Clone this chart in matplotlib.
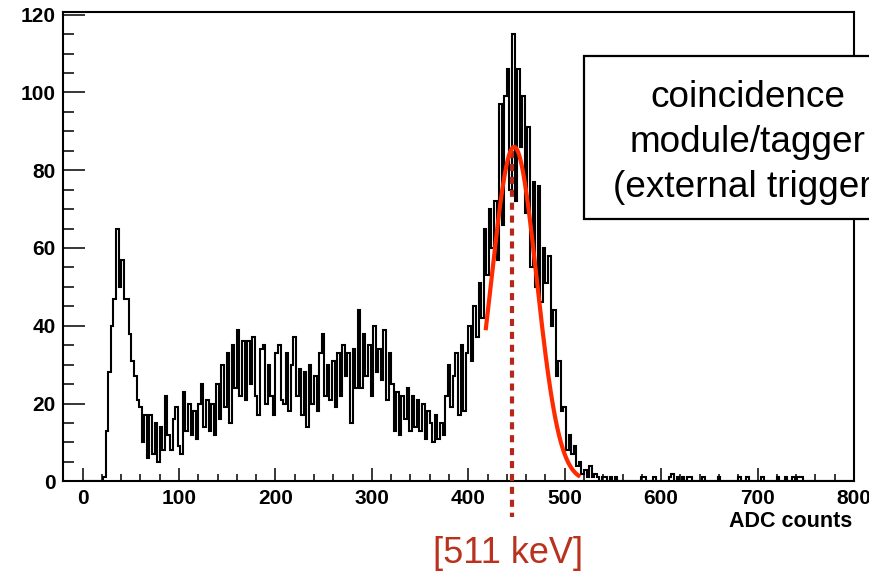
import numpy as np
import matplotlib
matplotlib.use("Agg")
import matplotlib.pyplot as plt
from matplotlib.patches import Rectangle
from matplotlib.ticker import MultipleLocator
from matplotlib.font_manager import FontProperties

# ---- histogram: 300 bins over 0..800 ADC counts ----
n_bins = 300
adc_min, adc_max = 0.0, 800.0

# counts for bins 0..204
counts_main = [
    0, 0, 0, 0, 0, 0, 0, 0, 1, 13,            # 0-9
    28, 40, 47, 65, 50, 57, 47, 47, 38, 31,   # 10-19
    27, 21, 19, 10, 17, 6, 17, 7, 15, 5,      # 20-29
    14, 8, 22, 12, 8, 16, 19, 9, 7, 23,       # 30-39
    13, 20, 12, 18, 11, 20, 25, 14, 21, 13,   # 40-49
    20, 12, 25, 16, 30, 19, 33, 15, 35, 24,   # 50-59
    39, 22, 36, 21, 36, 25, 37, 22, 17, 34,   # 60-69
    35, 20, 30, 22, 17, 33, 35, 21, 20, 33,   # 70-79
    18, 30, 37, 22, 29, 17, 28, 14, 30, 20,   # 80-89
    27, 18, 33, 38, 22, 30, 21, 31, 19, 33,   # 90-99
    22, 35, 27, 33, 15, 34, 24, 44, 24, 38,   # 100-109
    27, 35, 22, 40, 28, 34, 26, 39, 21, 33,   # 110-119
    25, 13, 23, 12, 22, 16, 24, 13, 22, 14,   # 120-129
    21, 13, 20, 11, 18, 15, 10, 17, 11, 15,   # 130-139
    12, 22, 30, 19, 27, 33, 17, 35, 18, 33,   # 140-149
    40, 31, 45, 37, 51, 42, 65, 53, 70, 60,   # 150-159
    72, 57, 97, 66, 99, 106, 75, 115, 72, 106, # 160-169
    86, 99, 69, 91, 55, 77, 50, 76, 46, 60,   # 170-179
    51, 58, 40, 44, 27, 31, 18, 19, 8, 12,    # 180-189
    7, 9, 4, 5, 2, 3, 1, 4, 1, 2,             # 190-199
    1, 0, 1, 1, 0,                            # 200-204
]

# isolated counts in the high-ADC tail
tail_bins = [205, 207, 217, 218, 222, 228, 229, 231, 233, 235, 236,
             241, 247, 255, 258, 264, 270, 273, 276, 278, 279]
tail_counts = [1, 1, 1, 1, 1, 1, 2, 1, 1, 1, 1,
               1, 1, 1, 1, 1, 1, 1, 1, 1, 1]

# Gaussian fit of the photo-peak
fit_amp = 86.0
fit_mean = 447.5
fit_sigma = 23.4
fit_lo, fit_hi = 418.0, 516.0

peak_marker = 445.0
peak_label = "[511 keV]"
box_lines = ["coincidence", "module/tagger", "(external trigger)"]

# ---- assemble counts ----
counts = np.zeros(n_bins)
counts[:len(counts_main)] = counts_main
for b, c in zip(tail_bins, tail_counts):
    counts[b] = c
edges = np.linspace(adc_min, adc_max, n_bins + 1)

W, H = 870, 574
fig = plt.figure(figsize=(W / 100, H / 100), dpi=100)
fig.patch.set_facecolor("white")

ax_l, ax_r, ax_t, ax_b = 63.3, 854.0, 12.3, 481.3
ax = fig.add_axes([ax_l / W, 1 - ax_b / H, (ax_r - ax_l) / W, (ax_b - ax_t) / H])

ax.stairs(counts, edges, color="black", lw=1.5, zorder=2)

# marker line at the peak, running below the axis to the label
ax.plot([peak_marker, peak_marker], [85, -9.2], color="#b3281a", lw=3.0,
        dashes=(1.7, 1.4), clip_on=False, zorder=3)

xf = np.linspace(fit_lo, fit_hi, 300)
yf = fit_amp * np.exp(-0.5 * ((xf - fit_mean) / fit_sigma) ** 2)
ax.plot(xf, yf, color="#ff2a00", lw=3.0, zorder=4, solid_capstyle="butt")

ax.set_xlim(-20, 800)
ax.set_ylim(0, 120.6)

ax.xaxis.set_major_locator(MultipleLocator(100))
ax.xaxis.set_minor_locator(MultipleLocator(20))
ax.yaxis.set_major_locator(MultipleLocator(20))
ax.yaxis.set_minor_locator(MultipleLocator(5))

tick_font = FontProperties(family="Liberation Sans", weight="bold", size=15)
ax.tick_params(axis="x", which="major", direction="in", length=9.5, width=1.1,
               pad=5.5, top=False)
ax.tick_params(axis="x", which="minor", direction="in", length=4.7, width=1.1,
               top=False)
ax.tick_params(axis="y", which="major", direction="in", length=16, width=1.1,
               pad=5.5, right=False)
ax.tick_params(axis="y", which="minor", direction="in", length=8, width=1.1,
               right=False)
for lab in ax.get_xticklabels() + ax.get_yticklabels():
    lab.set_fontproperties(tick_font)
for s in ax.spines.values():
    s.set_linewidth(1.5)

fig.text(852 / W, 1 - 527.3 / H, "ADC counts", ha="right", va="baseline",
         family="Liberation Sans", weight="bold", size=15.5)

fig.text(508.5 / W, 1 - 563.3 / H, peak_label, ha="center", va="baseline",
         family="Liberation Sans", size=26, color="#b8321e")

# annotation box, running off the right edge of the figure
box = Rectangle((584 / W, 1 - 219 / H), 340 / W, (219 - 56) / H,
                transform=fig.transFigure, facecolor="white",
                edgecolor="black", lw=1.6, zorder=5)
fig.patches.append(box)
for txt, base in zip(box_lines, [106.7, 151.7, 196.7]):
    fig.text(748 / W, 1 - base / H, txt, ha="center", va="baseline",
             family="Liberation Sans", size=26.6, color="black", zorder=6)

fig.savefig("out.png", dpi=100)
